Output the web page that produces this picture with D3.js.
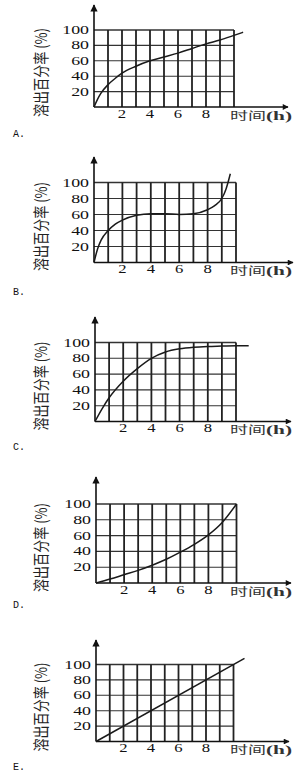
<!DOCTYPE html>
<html>
<head>
<meta charset="utf-8">
<script src="https://cdn.jsdelivr.net/npm/d3@7"></script>
<style>
    body { margin: 0; background: #fff; }
    svg { display: block; }
</style>
</head>
<body>
<svg id="chart" width="305" height="778"></svg>
<script>
// dissolution curves, hours vs percent
var yTickLabels = [20, 40, 60, 80, 100];
var xTickLabels = [2, 4, 6, 8];
var optionNames = ["A.", "B.", "C.", "D.", "E."];

var hoursA = [0, 0.25, 0.5, 1, 1.5, 2, 3, 4, 5, 6, 7, 8, 9, 10, 10.65];
var rateA  = [0, 10, 18, 29, 37, 44, 53, 60, 65, 70, 76, 82, 87, 93, 97];

var hoursB = [0, 0.25, 0.5, 1, 1.5, 2, 3, 4, 5, 6, 7, 8, 8.5, 9, 9.3, 9.6];
var rateB  = [0, 17, 28, 40, 48, 53, 59, 61, 61, 60, 61, 66, 71, 80, 92, 111];

var hoursC = [0, 0.5, 1, 2, 3, 4, 5, 6, 7, 8, 9, 10, 10.9];
var rateC  = [0, 16, 30, 51, 67, 80, 88, 92, 94, 95, 95.5, 96, 96];

var hoursD = [0, 1, 2, 3, 4, 5, 6, 7, 8, 9, 10];
var rateD  = [0, 5, 10.5, 16, 22.5, 30, 39, 49, 61, 77, 100];

var hoursE = [0, 10.8];
var rateE  = [0, 108];

// panel frames (pixels): origin, top of 100 line, right edge, arrow ends, option label baseline
var frames = [
    {ox: 94, oy: 107,   top: 30,    right: 234,   arrowTop: 5,   arrowRight: 288, nameY: 137},
    {ox: 94, oy: 262.5, top: 182.5, right: 236,   arrowTop: 157, arrowRight: 293, nameY: 295},
    {ox: 95, oy: 421.5, top: 342.5, right: 236,   arrowTop: 317, arrowRight: 291, nameY: 450},
    {ox: 96, oy: 583,   top: 504,   right: 236.5, arrowTop: 477, arrowRight: 291, nameY: 608},
    {ox: 96, oy: 741.5, top: 664.5, right: 233.5, arrowTop: 640, arrowRight: 289, nameY: 770}
];

var series = [
    {hours: hoursA, rate: rateA},
    {hours: hoursB, rate: rateB},
    {hours: hoursC, rate: rateC},
    {hours: hoursD, rate: rateD},
    {hours: hoursE, rate: rateE}
];

var svg = d3.select("#chart");

svg.append("defs").append("marker")
        .attr("id", "arrow")
        .attr("viewBox", "0 0 10 10")
        .attr("refX", 9)
        .attr("refY", 5)
        .attr("markerWidth", 5)
        .attr("markerHeight", 4.5)
        .attr("markerUnits", "strokeWidth")
        .attr("orient", "auto")
        .append("path")
        .attr("d", "M0,0L10,5L0,10z")
        .style("fill", "#111");

/**
 * draws one option panel
 */
function drawPanel(i)
{
    var f = frames[i];
    var s = series[i];
    var g = svg.append("g");

    var x = d3.scaleLinear().domain([0, 10]).range([f.ox, f.right]);
    var y = d3.scaleLinear().domain([0, 100]).range([f.oy, f.top]);

    // horizontal grid
    g.selectAll("line.h").data(y.ticks(5).filter(function(d) { return d > 0; }))
            .enter().append("line")
            .attr("x1", x(0)).attr("x2", x(10))
            .attr("y1", function(d) { return y(d); })
            .attr("y2", function(d) { return y(d); })
            .style("stroke", "#333")
            .style("stroke-width", function(d) { return d === 100 ? 1.6 : 1.1; });

    // vertical grid
    g.selectAll("line.v").data(x.ticks(10).filter(function(d) { return d > 0; }))
            .enter().append("line")
            .attr("x1", function(d) { return x(d); })
            .attr("x2", function(d) { return x(d); })
            .attr("y1", y(0)).attr("y2", y(100))
            .style("stroke", "#222")
            .style("stroke-width", 1.8);

    // axes with arrows
    g.append("line")
            .attr("x1", x(0)).attr("y1", y(0))
            .attr("x2", f.arrowRight).attr("y2", y(0))
            .style("stroke", "#111").style("stroke-width", 1.3)
            .attr("marker-end", "url(#arrow)");
    g.append("line")
            .attr("x1", x(0)).attr("y1", y(0))
            .attr("x2", x(0)).attr("y2", f.arrowTop)
            .style("stroke", "#111").style("stroke-width", 1.6)
            .attr("marker-end", "url(#arrow)");

    // curve
    var pts = s.hours.map(function(h, k) { return [h, s.rate[k]]; });
    var line = d3.line()
            .x(function(d) { return x(d[0]); })
            .y(function(d) { return y(d[1]); })
            .curve(d3.curveMonotoneX);
    g.append("path")
            .attr("d", line(pts))
            .style("fill", "none")
            .style("stroke", "#1a1a1a")
            .style("stroke-width", 1.5);

    // y tick labels
    g.selectAll("text.yt").data(yTickLabels)
            .enter().append("text")
            .attr("transform", function(d) { return "translate(" + (x(0) - 5) + "," + (y(d) + 4) + ") scale(1.55,1)"; })
            .attr("text-anchor", "end")
            .style("font-family", "Liberation Serif")
            .style("font-size", "11.5px")
            .style("fill", "#111")
            .text(function(d) { return d; });

    // x tick labels
    g.selectAll("text.xt").data(xTickLabels)
            .enter().append("text")
            .attr("transform", function(d) { return "translate(" + x(d) + "," + (y(0) + 10.5) + ") scale(1.45,1)"; })
            .attr("text-anchor", "middle")
            .style("font-family", "Liberation Serif")
            .style("font-size", "11.5px")
            .style("fill", "#111")
            .text(function(d) { return d; });

    // x title
    var xt = g.append("text")
            .attr("x", 230)
            .attr("y", y(0) + 12.5)
            .attr("textLength", 62)
            .attr("lengthAdjust", "spacingAndGlyphs")
            .style("font-family", "Noto Sans CJK SC")
            .style("font-size", "11px")
            .style("fill", "#333");
    xt.append("tspan").text("时间");
    xt.append("tspan")
            .style("font-family", "Liberation Serif")
            .style("font-size", "13px")
            .style("font-weight", "bold")
            .text("(h)");

    // y title
    g.append("text")
            .attr("transform", "translate(47," + ((y(0) + y(100)) / 2 + 4) + ") rotate(-90)")
            .attr("text-anchor", "middle")
            .attr("textLength", 89)
            .attr("lengthAdjust", "spacingAndGlyphs")
            .style("font-family", "Noto Sans CJK SC")
            .style("font-size", "16px")
            .style("fill", "#222")
            .text("溶出百分率 (%)");

    // option name
    g.append("text")
            .attr("x", 13)
            .attr("y", f.nameY)
            .style("font-family", "Liberation Mono")
            .style("font-size", "10px")
            .style("fill", "#111")
            .text(optionNames[i]);
}

for (var i = 0; i < frames.length; i++) {
    drawPanel(i);
}
</script>
</body>
</html>
